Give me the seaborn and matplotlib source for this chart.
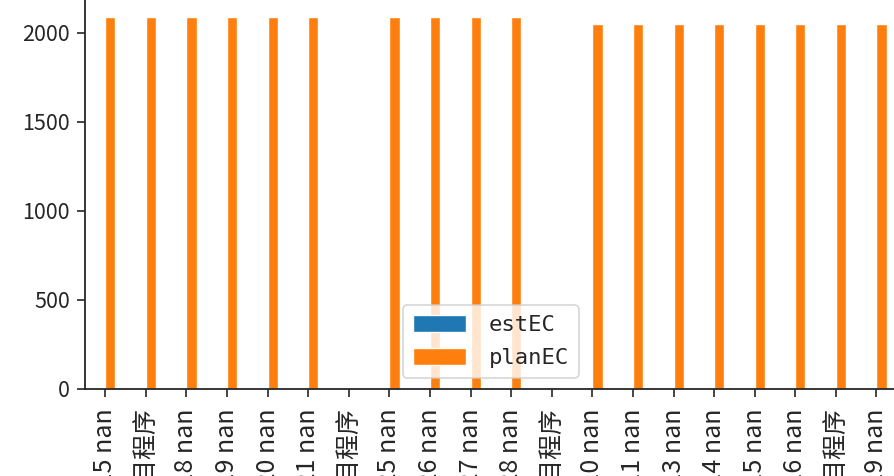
import numpy as np
import pandas as pd
import seaborn as sns
import matplotlib.pyplot as plt

labels = ['2023-05-15 nan', '备份项目程序', '2023-05-18 nan', '2023-05-19 nan',
          '2023-05-20 nan', '2023-05-21 nan', '数据项目程序', '2023-05-25 nan',
          '2023-05-26 nan', '2023-05-27 nan', '2023-05-28 nan', '测试项目程序',
          '2023-06-10 nan', '2023-06-11 nan', '2023-06-13 nan', '2023-06-14 nan',
          '2023-06-15 nan', '2023-06-16 nan', '维护项目程序', '2023-06-19 nan']
est_ec = [np.nan] * 20
plan_ec = [2088, 2088, 2088, 2088, 2088, 2088, np.nan, 2088, 2088, 2088,
           2088, np.nan, 2048, 2048, 2048, 2048, 2048, 2048, 2048, 2048]
y_ticks = [0, 500, 1000, 1500, 2000]

df = pd.DataFrame({'label': labels, 'estEC': est_ec, 'planEC': plan_ec})
long_df = df.melt(id_vars='label', var_name='series', value_name='EC')

sns.set_style('ticks')
plt.rcParams['font.family'] = ['Noto Sans CJK SC', 'DejaVu Sans']
plt.rcParams['axes.unicode_minus'] = False

fig = plt.figure(figsize=(8.95, 4.76), dpi=100)
ax = fig.add_axes([0.095, 0.1828, 0.907, 0.8206])

sns.barplot(data=long_df, x='label', y='EC', hue='series', order=labels,
            hue_order=['estEC', 'planEC'], palette=['#1f77b4', '#ff7f0e'],
            width=0.5, errorbar=None, saturation=1, ax=ax)

ax.set_xlim(-0.5, len(labels) - 0.5)
ax.set_ylim(0, 2192)
ax.set_yticks(y_ticks)
ax.set_xlabel('')
ax.set_ylabel('')
ax.tick_params(axis='both', length=6, width=1.2)
ax.tick_params(axis='y', labelsize=15.5, pad=5)
ax.tick_params(axis='x', labelsize=18, labelrotation=90, pad=8)
for s in ax.spines.values():
    s.set_linewidth(1.3)

leg = ax.legend(loc='lower center', bbox_to_anchor=(0.5, 0.0),
                prop={'family': 'DejaVu Sans Mono', 'size': 16},
                handlelength=2.4, handleheight=0.8, borderpad=0.45,
                labelspacing=0.55, handletextpad=1.0)
leg.get_frame().set_linewidth(1.2)

fig.savefig('out.png', dpi=100)
